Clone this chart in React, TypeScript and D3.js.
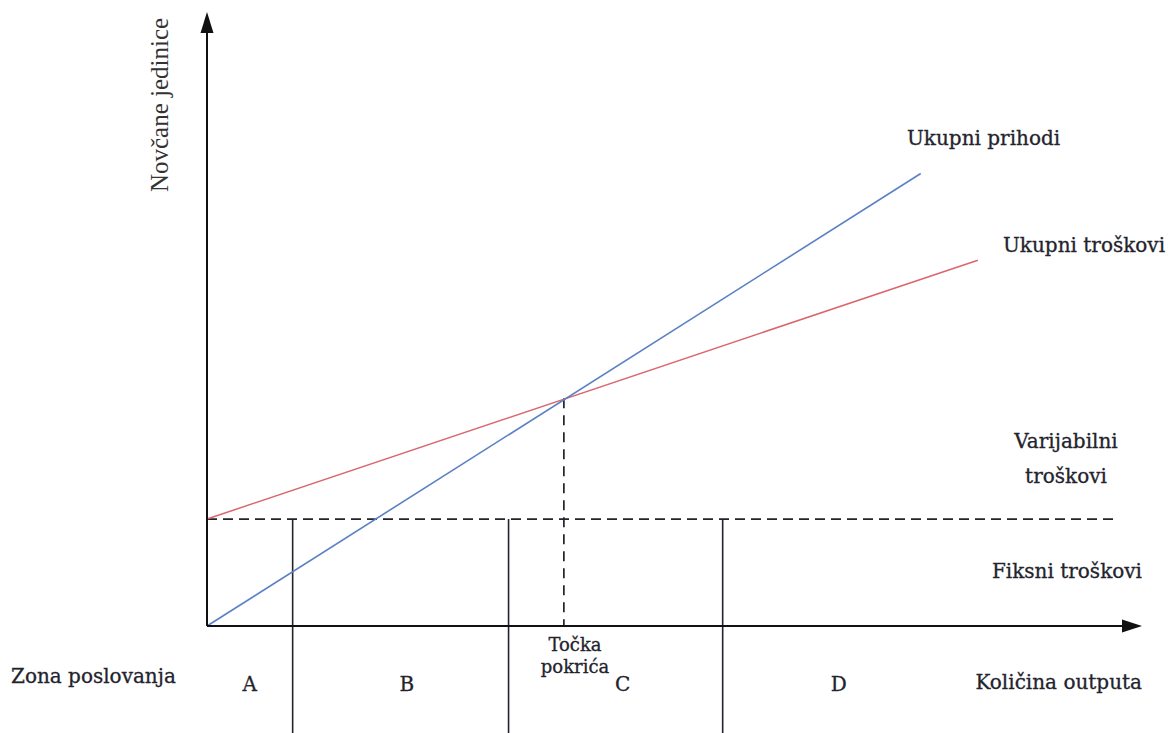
import * as d3 from 'd3';

// prodajna količina (q) i novčane jedinice (v)
const revenuePoints = [
  { q: 0, v: 0 },
  { q: 20, v: 42.3 },
];
const costPoints = [
  { q: 0, v: 10 },
  { q: 21.6, v: 34.2 },
];
const fixedCost = 10;
const fixedCostEnd = 25.4;
const breakEven = { q: 10, v: 21.3 };
const zoneBounds = [2.4, 8.45, 14.45];
const zoneNames = ['A', 'B', 'C', 'D'];
const zoneLabelQ = [1.2, 5.6, 11.65, 17.7];
const xMax = 26.2;
const yMax = 57.4;

const W = 1168;
const H = 733;
const serif = '"DejaVu Serif", serif';
const ink = '#23232d';

export default function App() {
  const x = d3.scaleLinear().domain([0, xMax]).range([207, 1142]);
  const y = d3.scaleLinear().domain([0, yMax]).range([626, 12]);

  const line = d3
    .line<{ q: number; v: number }>()
    .x(d => x(d.q))
    .y(d => y(d.v));

  const x0 = x(0);
  const y0 = y(0);
  const xEnd = x(xMax);
  const yTop = y(yMax);

  return (
    <svg
      width={W}
      height={H}
      style={{ position: 'absolute', left: 0, top: 0, background: '#fff' }}
    >
      {/* fiksni troškovi */}
      <line
        x1={x0}
        x2={x(fixedCostEnd)}
        y1={y(fixedCost)}
        y2={y(fixedCost)}
        stroke={ink}
        strokeWidth={1.7}
        strokeDasharray="10,6"
      />
      {/* granice zona */}
      {zoneBounds.map((b, i) => (
        <line
          key={i}
          x1={x(b)}
          x2={x(b)}
          y1={y(fixedCost)}
          y2={H}
          stroke={ink}
          strokeWidth={1.6}
        />
      ))}
      {/* točka pokrića */}
      <line
        x1={x(breakEven.q)}
        x2={x(breakEven.q)}
        y1={y(breakEven.v)}
        y2={y0}
        stroke={ink}
        strokeWidth={1.7}
        strokeDasharray="10,7"
      />
      <path d={line(costPoints) ?? ''} fill="none" stroke="#d9676d" strokeWidth={1.5} />
      <path d={line(revenuePoints) ?? ''} fill="none" stroke="#5b80c4" strokeWidth={1.6} />

      {/* osi */}
      <line x1={x0} x2={xEnd - 18} y1={y0} y2={y0} stroke="#111" strokeWidth={2} />
      <line x1={x0} x2={x0} y1={y0} y2={yTop + 18} stroke="#111" strokeWidth={2} />
      <path
        d={`M${xEnd},${y0} L${xEnd - 20},${y0 - 6.5} L${xEnd - 20},${y0 + 6.5} Z`}
        fill="#111"
      />
      <path
        d={`M${x0},${yTop} L${x0 - 6.5},${yTop + 21} L${x0 + 6.5},${yTop + 21} Z`}
        fill="#111"
      />

      <text
        transform="translate(168,105) rotate(-90)"
        textAnchor="middle"
        fontFamily='"Liberation Serif", serif'
        fontSize={25}
        fill="#333"
      >
        Novčane jedinice
      </text>

      <g fontFamily={serif} fill={ink} stroke={ink} strokeWidth={0.3} fontSize={20}>
        <text x={907} y={145}>Ukupni prihodi</text>
        <text x={1003} y={252}>Ukupni troškovi</text>
        <text x={1066} y={448} textAnchor="middle">Varijabilni</text>
        <text x={1066} y={483} textAnchor="middle">troškovi</text>
        <text x={1142} y={578} textAnchor="end">Fiksni troškovi</text>
        <text x={1142} y={689} textAnchor="end">Količina outputa</text>
        <text x={11} y={683}>Zona poslovanja</text>
        {zoneNames.map((z, i) => (
          <text key={z} x={x(zoneLabelQ[i])} y={691} textAnchor="middle">
            {z}
          </text>
        ))}
        <text x={575} y={651} textAnchor="middle" fontSize={18}>Točka</text>
        <text x={575} y={673} textAnchor="middle" fontSize={18}>pokrića</text>
      </g>
    </svg>
  );
}
